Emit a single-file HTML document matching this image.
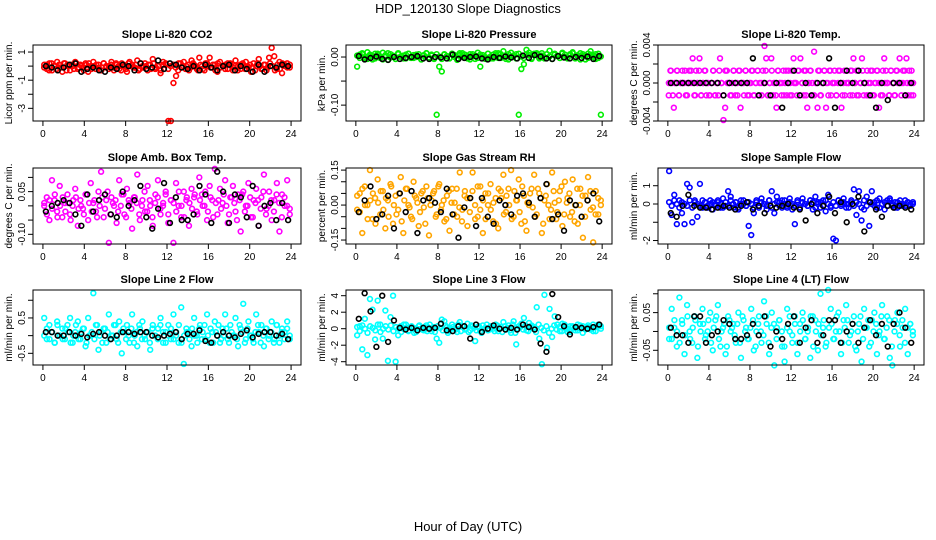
<!DOCTYPE html>
<html><head><meta charset="utf-8"><style>
html,body{margin:0;padding:0;background:#fff;}
svg{display:block;font-family:"Liberation Sans",Arial,sans-serif;}
</style></head><body>
<svg id="chart" width="936" height="540" viewBox="0 0 936 540" xmlns="http://www.w3.org/2000/svg">
<rect width="936" height="540" fill="#fff"/>
<text x="468" y="13" text-anchor="middle" font-size="13">HDP_120130  Slope Diagnostics</text>
<text x="468" y="531" text-anchor="middle" font-size="13">Hour of Day (UTC)</text>
</svg>
<script>
const xTicks=[0,4,8,12,16,20,24];
const co2Vals=[0.1,-0.2,0.2,-0.3,0.0,0.3,-0.1,-0.4,0.2,0.1,-0.3,0.0,0.3,-0.2,0.1,-0.1,0.2,-0.4,0.0,0.3,-0.2,0.1,-0.3,0.2,-0.1,0.0,0.3,-0.3,0.1,-0.2,0.2,0.0,-0.4,0.3,0.1,-0.1,0.4,-0.2,0.0,0.2,-0.3,0.1,0.5,-0.2,0.0,-0.5,0.3,0.1,-3.9,-3.9,-1.2,-0.7,0.2,-0.1,0.3,0.0,-0.3,0.4,0.1,-0.2,0.6,0.0,-0.3,0.2,0.6,-0.1,0.1,-0.4,0.3,0.0,-0.2,0.2,0.1,-0.3,0.4,0.0,-0.2,0.1,0.3,-0.1,-0.4,0.2,0.0,0.5,-0.2,0.1,-0.3,0.6,1.3,0.7,-0.2,0.3,-0.5,0.1,0.2,-0.1];
const co2Band=[-0.1,0.1,-0.3,0.2,0.0,-0.2,0.1,-0.1,0.2,-0.3,0.0,0.1,-0.2,0.2,-0.1,0.0,-0.3,0.1,0.2,-0.2,0.0,0.1,-0.1,-0.3,0.2,0.0,-0.2,0.1,-0.1,0.2,0.0,-0.3,0.1,-0.2,0.2,0.0,-0.1,0.1,-0.3,0.2,-0.1,0.0,0.1,-0.2,0.2,-0.1,0.0,-0.3,0.1,0.2,-0.2,0.0,0.1,-0.1,-0.3,0.2,0.0,-0.2,0.1,-0.1,0.2,0.0,-0.3,0.1,-0.2,0.2,0.0,-0.1,0.1,-0.3,0.2,-0.1,0.0,0.1,-0.2,0.2,-0.1,0.0,-0.3,0.1,0.2,-0.2,0.0,0.1,-0.1,-0.3,0.2,0.0,-0.2,0.1,-0.1,0.2,0.0,-0.3,0.1,-0.2,0.2,0.0,-0.1,0.1];
const co2Black=[0.0,-0.1,-0.3,-0.1,0.1,0.2,-0.4,-0.2,-0.1,-0.3,-0.4,-0.1,-0.2,0.1,0.0,-0.3,0.2,-0.2,-0.1,0.4,-0.2,0.2,0.1,-0.1,-0.2,0.0,-0.3,0.1,-0.1,-0.3,0.0,0.1,-0.3,0.0,-0.2,-0.4,0.1,-0.4,0.0,-0.1,0.1,0.0];
const presVals=[-0.02,0.005,0.008,-0.003,0.01,0.002,-0.005,0.007,0.004,-0.002,0.009,0.0,-0.006,0.006,0.003,-0.004,0.008,0.001,-0.003,0.005,0.007,-0.002,0.004,0.0,0.006,-0.005,0.003,0.008,-0.001,0.005,-0.004,-0.12,-0.02,-0.03,0.006,0.002,-0.003,0.007,0.004,-0.006,0.008,0.001,0.005,-0.003,0.006,0.002,-0.004,0.009,-0.02,0.004,0.0,0.007,-0.003,0.005,0.008,-0.002,0.006,0.012,0.003,-0.005,0.009,0.002,0.006,-0.12,-0.025,-0.015,0.015,0.004,-0.002,0.007,0.005,-0.003,0.008,0.0,0.006,0.013,-0.004,0.007,0.003,-0.002,0.009,0.005,-0.001,0.006,0.01,-0.003,0.004,0.008,0.002,-0.005,0.007,0.012,0.003,0.006,-0.002,-0.12];
const presBand=[0.003,-0.002,0.006,0.0,-0.004,0.005,0.002,-0.003,0.007,0.001,-0.005,0.004,0.008,-0.001,0.002,-0.004,0.006,0.0,0.003,-0.003,0.007,0.001,-0.002,0.005,0.0,-0.005,0.004,0.008,-0.001,0.003,-0.003,0.006,0.001,-0.004,0.005,0.002,-0.002,0.007,0.0,-0.003,0.004,0.008,-0.001,0.002,-0.005,0.006,0.003,-0.002,0.005,0.0,-0.004,0.007,0.001,-0.003,0.004,0.008,-0.002,0.002,-0.004,0.006,0.0,0.003,-0.003,0.007,0.001,-0.002,0.005,0.009,-0.004,0.004,0.008,-0.001,0.003,-0.003,0.006,0.001,-0.004,0.005,0.002,-0.002,0.007,0.0,-0.003,0.004,0.008,-0.001,0.002,-0.005,0.006,0.003,-0.002,0.005,0.0,-0.004,0.007,0.001];
const presBlack=[0.002,-0.005,-0.002,0.001,-0.004,-0.006,0.0,-0.004,-0.002,0.0,0.002,-0.003,-0.004,0.0,-0.001,-0.003,0.005,-0.004,-0.002,0.0,0.001,-0.003,-0.005,0.0,-0.002,0.001,-0.001,-0.003,0.003,-0.002,0.004,0.001,-0.003,-0.004,0.002,-0.001,-0.003,0.0,-0.002,0.001,-0.004,0.002];
const tempVals=[-.0013,.0013,0,-.0026,0,.0013,-.0013,0,.0013,0,-.0013,0,
.0013,0,.0026,-.0013,.0013,0,.0026,-.0013,0,.0013,-.0013,0,
-.0013,0,.0013,-.0013,0,-.0013,.0026,0,-.0039,-.0026,.0013,0,
-.0013,0,.0013,-.0013,0,.0013,-.0026,0,-.0013,.0013,0,-.0013,
0,.0013,-.0013,0,.0013,-.0013,0,.0013,.0039,.0026,-.0013,0,
.0026,-.0013,0,-.0026,.0013,0,-.0013,.0013,0,-.0013,.0013,0,
-.0013,.0026,0,-.0013,.0013,.0026,0,-.0013,.0013,-.0026,0,.0013,
-.0013,.0033,0,-.0026,.0013,-.0013,0,.0013,-.0026,0,.0013,-.0013,
0,.0013,-.0013,0,.0013,-.0026,0,-.0013,.0013,0,-.0013,.0013,
.0026,0,-.0013,.0013,0,.0026,-.0013,0,.0013,-.0013,0,.0013,
-.0013,0,.0013,-.0026,0,-.0013,.0026,.0013,0,-.0013,.0013,0,
-.0013,.0013,0,.0026,-.0013,0,.0013,.0026,-.0013,0,.0013,-.0013];
const tempBand=[0,.0013,-.0013,0,.0013,-.0013,0,0,.0013,-.0013,0,.0013,0,-.0013,0,.0013,-.0013,0,.0013,0,-.0013,0,.0013,-.0013,0,.0013,0,-.0013,.0013,0,0,-.0013,.0013,0,-.0013,.0013,0,0,.0013,-.0013,0,.0013,-.0013,0,.0013,0,-.0013,0,.0013,-.0013,0,.0013,0,-.0013,.0013,0,0,-.0013,.0013,0,-.0013,.0013,0,0,.0013,-.0013,0,.0013,-.0013,0,.0013,0,-.0013,0,.0013,-.0013,0,.0013,0,-.0013,.0013,0,0,-.0013,.0013,0,-.0013,.0013,0,0,.0013,-.0013,0,.0013,-.0013,0,.0013,0,-.0013,0,.0013,-.0013,0,.0013,0,-.0013,.0013,0,0,-.0013,.0013,0,-.0013,.0013,0,0,.0013,-.0013,0,.0013,-.0013,0];
const tempBlack=[0,0,0,0,0,0,0,0,0,-.0013,0,0,0,0,.0026,-.0013,0,-.0013,0,-.0026,0,.0013,-.0013,0,-.0013,0,0,.0026,-.0026,0,.0013,0,.0013,0,-.0013,-.0026,0,-.0018,0,0,-.0013,0];
const ambVals=[0.0,0.03,-0.05,0.09,0.02,-0.02,0.07,-0.04,0.01,0.04,-0.03,0.0,0.06,-0.07,0.02,-0.01,0.04,-0.05,0.08,0.01,-0.02,0.05,0.12,-0.04,0.02,-0.13,0.03,0.0,-0.06,0.09,0.04,-0.03,0.06,0.01,-0.08,0.03,0.11,-0.05,0.02,-0.02,0.07,0.0,-0.07,0.04,0.09,-0.03,0.01,0.05,-0.06,0.02,-0.13,0.08,0.0,-0.04,0.05,0.02,-0.07,0.06,0.03,-0.02,0.1,0.04,0.0,-0.05,0.07,0.02,0.13,-0.03,0.06,0.01,0.09,-0.06,0.03,0.07,-0.02,0.04,-0.09,0.05,0.0,0.08,-0.04,0.02,0.06,-0.07,0.03,0.11,-0.01,0.05,-0.05,0.02,0.08,-0.09,0.04,0.0,0.09,-0.03];
const ambBand=[0.01,-0.03,0.02,-0.01,0.04,-0.04,0.0,0.03,-0.02,0.01,-0.05,0.02,0.03,-0.01,0.0,-0.03,0.04,0.01,-0.02,0.02,-0.04,0.0,0.03,-0.01,0.05,-0.03,0.01,0.02,-0.02,0.0,0.04,-0.04,0.02,-0.01,0.03,0.01,-0.03,0.0,0.05,-0.02,0.02,-0.04,0.01,0.03,-0.01,0.0,0.04,-0.03,0.02,0.01,-0.02,0.05,0.0,-0.04,0.03,0.01,-0.01,0.04,-0.03,0.02,0.0,0.05,-0.02,0.03,-0.04,0.01,0.02,-0.01,0.04,0.0,-0.03,0.03,0.01,-0.05,0.02,0.04,-0.02,0.0,0.03,-0.04,0.01,0.02,-0.01,0.05,-0.03,0.0,0.02,-0.02,0.04,0.01,-0.04,0.03,0.0,-0.01];
const ambBlack=[-0.02,0.0,0.01,0.02,0.01,-0.03,-0.07,0.04,-0.02,0.02,0.04,-0.03,-0.04,0.05,0.0,0.02,0.07,-0.04,-0.08,-0.01,0.08,-0.06,0.03,-0.05,-0.05,-0.03,0.07,0.04,-0.06,0.12,0.05,-0.06,0.04,0.03,-0.04,0.07,-0.07,0.0,0.01,-0.05,0.01,-0.05];
const rhVals=[-0.02,0.05,-0.12,0.08,0.0,0.15,-0.06,0.03,0.11,-0.04,0.06,-0.1,0.02,0.09,-0.08,0.04,-0.02,0.12,-0.12,0.07,0.0,-0.05,0.1,0.03,-0.09,0.05,-0.01,0.08,-0.13,0.02,0.06,-0.04,0.09,0.0,-0.07,0.04,-0.11,0.07,0.01,-0.05,0.14,-0.02,0.06,-0.09,0.03,0.14,-0.06,0.08,-0.02,-0.12,0.05,0.0,0.09,-0.07,0.03,-0.1,0.06,0.13,-0.03,0.07,0.15,-0.05,0.02,0.11,-0.08,0.04,-0.11,0.0,0.07,0.13,-0.04,0.05,-0.12,0.02,0.09,-0.06,0.14,0.01,-0.03,0.06,-0.09,0.1,0.03,-0.05,0.11,0.0,-0.08,0.07,-0.14,0.04,0.12,-0.02,-0.16,0.06,-0.04,0.02];
const rhBand=[0.04,-0.03,0.07,0.0,-0.06,0.02,0.05,-0.08,0.01,0.06,-0.02,0.03,-0.05,0.08,0.0,-0.04,0.05,-0.07,0.02,0.07,-0.01,-0.06,0.04,0.01,-0.03,0.06,-0.08,0.03,0.0,0.05,-0.05,0.08,-0.02,0.02,-0.06,0.06,0.01,-0.04,0.07,-0.01,-0.07,0.04,0.03,-0.03,0.06,0.0,-0.05,0.08,0.02,-0.06,0.05,-0.02,0.01,-0.08,0.07,0.03,-0.04,0.04,0.0,-0.06,0.06,0.02,-0.03,0.08,-0.07,0.01,0.05,-0.01,-0.05,0.07,0.03,-0.08,0.04,0.0,-0.02,0.06,-0.06,0.02,0.08,-0.04,0.01,0.05,-0.03,-0.07,0.07,0.0,0.04,-0.05,0.02,0.06,-0.01,-0.04,0.03,0.0];
const rhBlack=[-0.03,0.02,0.08,-0.06,-0.04,0.04,-0.1,0.05,-0.03,0.06,-0.12,0.02,0.03,0.01,-0.03,0.07,-0.04,-0.14,-0.01,0.03,-0.09,0.03,-0.05,-0.08,0.02,0.0,-0.04,0.04,0.05,0.01,-0.05,0.03,0.09,-0.06,-0.04,-0.11,0.02,0.0,-0.05,0.02,0.05,-0.07];
const flowVals=[1.8,-0.6,0.5,-1.1,0.2,-0.5,-1.1,1.1,0.9,-1.0,0.2,-0.7,1.1,-0.2,0.1,-0.1,0.2,-0.3,0.0,0.1,-0.2,0.3,-0.1,0.7,0.4,-0.2,0.1,-0.3,0.2,0.0,-0.1,-1.2,-1.7,-0.5,0.1,-0.2,0.3,0.0,-0.3,0.2,0.7,-0.5,0.4,0.1,-0.2,0.2,-0.1,0.3,-0.3,-1.1,0.1,-0.2,0.3,0.0,-0.1,0.2,-0.3,0.4,0.1,-0.2,0.2,-0.4,0.5,-0.1,-1.9,-2.0,0.2,-0.1,0.3,0.0,-0.2,0.1,0.8,-0.6,0.7,-0.9,-0.3,0.4,-1.2,0.7,0.1,-0.2,0.3,0.0,-0.3,0.2,0.3,-0.1,0.1,-0.2,0.2,0.0,-0.1,0.1,0.0,0.1];
const flowBand=[0.1,-0.1,0.2,0.0,-0.2,0.1,0.0,-0.1,0.2,-0.2,0.1,0.0,-0.1,0.2,0.1,-0.2,0.0,0.1,-0.1,0.2,0.0,-0.2,0.1,-0.1,0.2,0.0,0.1,-0.2,0.0,0.2,-0.1,0.1,0.0,-0.2,0.2,-0.1,0.1,0.0,-0.1,0.2,-0.2,0.0,0.1,-0.1,0.2,0.0,-0.2,0.1,0.0,-0.1,0.2,-0.2,0.1,0.0,-0.1,0.2,0.1,-0.2,0.0,0.1,-0.1,0.2,0.0,-0.2,0.1,-0.1,0.2,0.0,0.1,-0.2,0.0,0.2,-0.1,0.1,0.0,-0.2,0.2,-0.1,0.1,0.0,-0.1,0.2,-0.2,0.0,0.1,-0.1,0.2,0.0,-0.2,0.1,0.0,-0.1,0.2,0.1,-0.1,0.0];
const flowBlack=[-0.5,-0.7,-0.1,0.5,-0.1,-0.2,-0.2,-0.3,-0.2,-0.1,-0.2,-0.3,-0.1,0.1,-0.3,-0.1,-0.5,-0.1,-0.2,-0.1,0.0,-0.2,-0.3,-0.9,0.0,-0.5,-0.1,0.4,-0.5,0.1,-1.0,0.0,0.4,-1.5,0.1,-0.3,-0.7,-0.1,-0.2,-0.1,-0.2,-0.3];
const line2Vals=[0.5,-0.1,0.3,0.1,-0.2,0.4,0.0,0.2,-0.1,0.3,0.5,-0.2,0.1,0.4,-0.1,0.2,-0.3,0.5,0.0,1.2,0.3,-0.4,0.1,0.2,-0.2,0.6,0.0,0.3,-0.1,0.4,-0.5,0.1,0.3,-0.2,0.6,0.0,-0.3,0.2,0.4,-0.1,0.1,-0.4,0.3,0.0,0.2,0.5,-0.2,0.1,0.3,-0.1,0.6,0.0,-0.2,0.8,-0.8,0.2,0.1,-0.3,0.5,0.0,0.2,-0.1,0.3,0.6,-0.2,0.1,0.4,0.0,-0.2,0.2,0.6,-0.1,0.3,0.0,0.5,-0.3,0.2,0.9,-0.1,0.4,0.0,-0.2,0.6,0.1,0.3,-0.3,0.2,0.0,0.4,-0.1,0.3,-0.2,0.2,0.1,0.4,-0.1];
const line2Band=[0.0,0.2,-0.1,0.1,-0.2,0.3,0.0,-0.1,0.2,0.1,-0.2,0.0,0.3,-0.1,0.1,0.2,-0.2,0.0,0.1,-0.1,0.3,0.0,-0.2,0.2,0.1,-0.1,0.0,0.3,-0.2,0.1,0.2,-0.1,0.0,0.2,-0.2,0.1,0.3,-0.1,0.0,0.1,-0.2,0.2,0.0,-0.1,0.3,0.1,-0.2,0.0,0.2,-0.1,0.1,0.3,-0.2,0.0,0.1,-0.1,0.2,0.0,-0.2,0.3,0.1,-0.1,0.0,0.2,-0.2,0.1,0.3,-0.1,0.0,0.2,-0.2,0.1,0.0,-0.1,0.3,0.1,-0.2,0.2,0.0,-0.1,0.1,0.3,-0.2,0.0,0.2,-0.1,0.1,-0.2,0.3,0.0,0.1,-0.1,0.2,0.0];
const line2Black=[0.1,0.1,0.0,0.0,0.1,0.0,0.05,-0.05,0.05,0.1,0.0,-0.1,0.0,0.1,0.1,0.05,0.1,0.1,0.0,-0.05,0.0,0.05,0.1,-0.1,0.05,0.05,0.15,-0.15,-0.2,0.0,0.1,0.0,-0.05,0.05,0.15,-0.05,0.05,0.1,0.1,0.0,0.05,-0.1];
const line3Vals=[-0.8,0.3,-2.5,1.2,-3.2,3.6,2.3,-1.3,3.4,0.5,-1.2,2.2,-3.9,1.4,4.0,-4.0,-0.8,0.3,0.0,0.5,-0.3,0.2,0.1,-0.4,0.3,0.0,-0.2,0.4,0.1,-0.3,0.2,-1.2,-1.7,1.1,0.9,0.2,-0.3,0.5,0.0,-0.4,0.8,0.3,-0.1,0.6,-0.2,0.3,-1.5,0.2,-0.3,0.4,0.1,-0.2,0.3,0.0,0.5,-0.3,0.2,0.8,-0.1,0.4,-0.5,0.9,-1.9,0.3,0.6,1.3,-0.2,0.7,0.4,0.2,2.6,-1.2,-4.3,4.1,-2.3,2.4,-1.0,1.5,0.5,-0.3,0.6,0.1,-0.4,0.3,0.2,-0.2,0.5,0.0,0.3,-0.1,0.4,0.1,-0.3,0.2,0.5,0.3];
const line3Band=[0.2,-0.3,0.4,0.0,-0.5,0.3,0.1,-0.2,0.5,-0.4,0.0,0.3,-0.1,0.4,-0.3,0.2,0.0,-0.4,0.5,0.1,-0.2,0.3,-0.5,0.0,0.4,-0.1,0.2,-0.3,0.5,0.0,-0.4,0.3,0.1,-0.2,0.4,-0.5,0.0,0.2,-0.1,0.5,-0.3,0.3,0.0,-0.4,0.4,0.1,-0.2,0.3,-0.5,0.0,0.5,-0.1,0.2,-0.3,0.4,0.0,-0.4,0.3,0.1,-0.2,0.5,-0.5,0.0,0.2,-0.1,0.4,-0.3,0.3,0.0,-0.4,0.5,0.1,-0.2,0.3,-0.5,0.0,0.4,-0.1,0.2,-0.3,0.5,0.0,-0.4,0.3,0.1,-0.2,0.4,-0.5,0.0,0.2,-0.1,0.5,-0.3,0.3,0.0];
const line3Black=[1.2,4.3,2.1,-2.2,4.0,-1.6,1.0,0.1,-0.1,0.1,-0.2,0.1,0.0,0.1,0.6,-0.2,-0.3,0.3,0.3,-1.2,0.5,-0.4,0.0,0.4,0.0,-0.1,0.1,-0.1,0.5,0.2,-0.1,-1.8,-2.8,4.2,1.4,0.3,-0.7,0.2,0.1,0.0,0.2,0.5];
const line4Vals=[-0.02,0.06,0.01,-0.04,0.09,0.03,-0.06,0.07,0.0,-0.03,0.04,-0.07,0.02,0.06,-0.02,0.0,0.05,-0.05,0.03,0.07,-0.04,0.01,-0.06,0.04,0.0,0.02,-0.03,0.05,-0.07,0.03,0.01,-0.02,0.06,-0.05,0.0,0.04,-0.03,0.08,0.02,-0.06,0.05,-0.09,0.01,0.03,-0.04,-0.08,0.06,0.0,-0.03,0.04,-0.06,0.02,0.05,-0.02,0.0,-0.07,0.04,0.03,-0.05,0.1,0.01,-0.04,0.11,0.06,-0.02,0.0,0.05,-0.06,0.03,0.07,-0.03,0.0,0.04,-0.05,0.02,-0.08,0.06,0.01,-0.04,0.03,0.05,-0.06,0.0,0.07,-0.02,0.04,-0.07,-0.09,0.03,0.05,-0.04,0.01,0.06,-0.06,0.02,-0.01];
const line4Band=[0.01,-0.02,0.03,0.0,-0.03,0.02,-0.01,0.04,-0.02,0.01,0.03,-0.04,0.0,0.02,-0.01,0.03,-0.03,0.01,0.04,-0.02,0.0,0.02,-0.04,0.03,0.01,-0.01,0.02,-0.03,0.04,0.0,-0.02,0.01,0.03,-0.04,0.02,0.0,-0.01,0.04,-0.03,0.01,0.02,-0.02,0.03,0.0,-0.04,0.01,0.04,-0.01,0.02,-0.03,0.0,0.03,-0.02,0.01,0.04,-0.04,0.0,0.02,-0.01,0.03,-0.03,0.01,0.02,-0.02,0.04,0.0,-0.03,0.01,0.03,-0.01,0.02,-0.04,0.0,0.04,-0.02,0.01,0.03,-0.03,0.0,0.02,-0.01,0.04,-0.02,0.01,0.03,-0.04,0.0,0.02,-0.01,0.03,-0.03,0.01,0.02,0.0];
const line4Black=[0.01,-0.01,-0.01,-0.03,0.04,0.04,-0.03,-0.01,0.0,0.03,0.02,-0.02,-0.02,-0.01,0.02,-0.01,0.04,-0.04,0.0,-0.02,0.02,0.04,-0.03,0.01,0.03,-0.03,-0.01,0.03,0.03,-0.03,0.0,0.02,-0.03,0.01,0.03,-0.01,0.02,-0.04,0.02,0.05,0.01,-0.03];

const svg=document.getElementById('chart');
const NS='http://www.w3.org/2000/svg';
function mk(tag,attrs,parent){const e=document.createElementNS(NS,tag);for(const k in attrs)e.setAttribute(k,attrs[k]);(parent||svg).appendChild(e);return e;}
const colsX=[[33,301],[346,612],[658,924]];
const rowsY=[[45,121],[168,244],[290,365]];
const panels=[
{name:'co2',title:'Slope Li-820 CO2',ylab:'Licor ppm per min.',vals:co2Vals,band:co2Band,black:co2Black,color:'#ff0000',ymin:-3.9,ymax:1.5,ticks:[-3,-2,-1,0,1],labels:['-3','-1','1'],r:0,c:0},
{name:'pressure',title:'Slope Li-820 Pressure',ylab:'kPa per min.',vals:presVals,band:presBand,black:presBlack,color:'#00ee00',ymin:-0.133,ymax:0.025,ticks:[-0.1,-0.05,0],labels:['-0.10','0.00'],r:0,c:1},
{name:'temp',title:'Slope Li-820 Temp.',ylab:'degrees C per min.',vals:tempVals,band:tempBand,black:tempBlack,color:'#ff00ff',ymin:-0.004,ymax:0.004,ticks:[-0.004,-0.002,0,0.002,0.004],labels:['-0.004','0.000','0.004'],r:0,c:2},
{name:'amb-box-temp',title:'Slope Amb. Box Temp.',ylab:'degrees C per min.',vals:ambVals,band:ambBand,black:ambBlack,color:'#ff00ff',ymin:-0.134,ymax:0.133,ticks:[-0.1,-0.05,0,0.05,0.1],labels:['-0.10','0.05'],r:1,c:0},
{name:'gas-stream-rh',title:'Slope Gas Stream RH',ylab:'percent per min.',vals:rhVals,band:rhBand,black:rhBlack,color:'#ffa500',ymin:-0.167,ymax:0.159,ticks:[-0.15,-0.1,-0.05,0,0.05,0.1,0.15],labels:['-0.15','0.00','0.15'],r:1,c:1},
{name:'sample-flow',title:'Slope Sample Flow',ylab:'ml/min per min.',vals:flowVals,band:flowBand,black:flowBlack,color:'#0000ff',ymin:-2.19,ymax:1.97,ticks:[-2,-1,0,1],labels:['-2','0','1'],r:1,c:2},
{name:'line2-flow',title:'Slope Line 2 Flow',ylab:'ml/min per min.',vals:line2Vals,band:line2Band,black:line2Black,color:'#00ffff',ymin:-0.83,ymax:1.29,ticks:[-0.5,0,0.5,1],labels:['-0.5','0.5'],r:2,c:0},
{name:'line3-flow',title:'Slope Line 3 Flow',ylab:'ml/min per min.',vals:line3Vals,band:line3Band,black:line3Black,color:'#00ffff',ymin:-4.4,ymax:4.69,ticks:[-4,-2,0,2,4],labels:['-4','-2','0','2','4'],r:2,c:1},
{name:'line4-flow',title:'Slope Line 4 (LT) Flow',ylab:'ml/min per min.',vals:line4Vals,band:line4Band,black:line4Black,color:'#00ffff',ymin:-0.089,ymax:0.11,ticks:[-0.05,0,0.05,0.1],labels:['-0.05','0.05'],r:2,c:2}
];
panels.forEach(p=>{
  const [x0,x1]=colsX[p.c],[y0,y1]=rowsY[p.r];
  const g=mk('g',{});
  
  
  const pad=(x1-x0)*0.04/1.08;
  const xs=h=>x0+pad+(h/24)*(x1-x0-2*pad);
  const ys=v=>y1-(v-p.ymin)/(p.ymax-p.ymin)*(y1-y0);
  const t=mk('text',{x:(x0+x1)/2,y:y0-7,'text-anchor':'middle','font-size':'11','font-weight':'bold'},g);
  t.textContent=p.title;
  
  
  const yl=mk('text',{x:0,y:0,'text-anchor':'middle','font-size':'10',transform:`translate(${x0-21},${(y0+y1)/2}) rotate(-90)`},g);
  yl.textContent=p.ylab;
  
  
  const xa=mk('g',{},g);
  
  
  mk('line',{x1:xs(0),x2:xs(24),y1:y1,y2:y1,stroke:'#000'},xa);
  xTicks.forEach(h=>{
    mk('line',{x1:xs(h),x2:xs(h),y1:y1,y2:y1+5,stroke:'#000'},xa);
    const l=mk('text',{x:xs(h),y:y1+16,'text-anchor':'middle','font-size':'10'},xa);
    l.textContent=String(h);
    
    
  });
  const ya=mk('g',{},g);
  
  
  mk('line',{x1:x0,x2:x0,y1:ys(p.ticks[0]),y2:ys(p.ticks[p.ticks.length-1]),stroke:'#000'},ya);
  p.ticks.forEach(v=>{mk('line',{x1:x0-5,x2:x0,y1:ys(v),y2:ys(v),stroke:'#000'},ya);});
  p.labels.forEach(s=>{
    const l=mk('text',{x:0,y:0,'text-anchor':'middle','font-size':'10',transform:`translate(${x0-8},${ys(parseFloat(s))}) rotate(-90)`},ya);
    l.textContent=s;
    
    
  });
  const cs=mk('g',{fill:'none',stroke:p.color,'stroke-width':'1.6'},g);
  
  
  [p.band,p.vals].forEach(arr=>{
    const n=arr.length;
    arr.forEach((v,i)=>{
      const c=mk('circle',{cx:xs(24*(i+0.5)/n),cy:ys(v),r:2.4},cs);
      
      
    });
  });
  const bs=mk('g',{fill:'none',stroke:'#000','stroke-width':'1.6'},g);
  
  
  const m=p.black.length;
  p.black.forEach((v,i)=>{
    const c=mk('circle',{cx:xs(24*(i+0.5)/m),cy:ys(v),r:2.4},bs);
    
    
  });
  const box=mk('rect',{x:x0,y:y0,width:x1-x0,height:y1-y0,fill:'none',stroke:'#000'},g);
  
  
});
</script>
</body></html>
